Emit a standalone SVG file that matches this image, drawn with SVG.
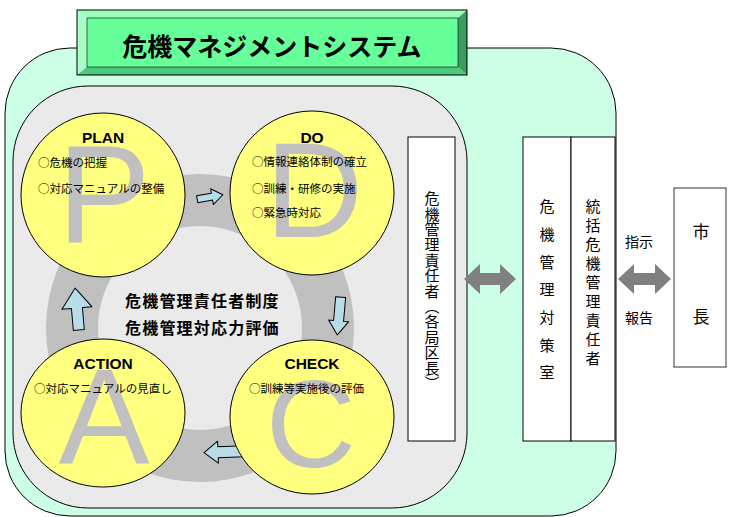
<svg xmlns="http://www.w3.org/2000/svg" width="731" height="517" viewBox="0 0 731 517">
<style>
.jp{font-family:"Noto Sans CJK JP","Noto Sans CJK SC",sans-serif;fill:#000}
.lbl{font-family:"Liberation Sans",Arial,sans-serif;font-weight:bold;font-size:15.5px;text-anchor:middle;fill:#000}
.item{font-size:11.5px}
.big{font-family:"Liberation Sans",Arial,sans-serif;fill:#C0C0C0;text-anchor:middle}
.circ{fill:#FFFF80;stroke:#000;stroke-width:1}
.box{fill:#FFFFFF;stroke:#000;stroke-width:1}
.rarrow{fill:#B7DEE8;stroke:#000;stroke-width:1;stroke-linejoin:round}
.darrow{fill:#808080}
.vt{writing-mode:vertical-rl;font-size:15px}
</style>
<rect width="731" height="517" fill="#FFFFFF"/>
<g id="frame">
<rect x="5" y="48" width="611" height="468" rx="65" fill="#CCFFE5" stroke="#000" stroke-width="1"/>
<rect x="13" y="86" width="454" height="422" rx="75" fill="#EAEAEA" stroke="#000" stroke-width="1"/>
<circle cx="200" cy="328" r="128" fill="none" stroke="#C0C0C0" stroke-width="52"/>
</g>
<g id="title">
<polygon points="77,10 467,10 458,18 87,18" fill="#99FFBB"/>
<polygon points="77,10 87,18 87,67 77,75" fill="#A6FFC4"/>
<polygon points="467,10 467,75 458,67 458,18" fill="#3C9C5E"/>
<polygon points="77,75 467,75 458,67 87,67" fill="#4CC87C"/>
<rect x="87" y="18" width="371" height="49" fill="#66FF99" stroke="#000" stroke-width="0.6"/>
<rect x="77" y="10" width="390" height="65" fill="none" stroke="#000" stroke-width="1"/>
<text class="jp" x="272" y="56" font-size="25" font-weight="bold" text-anchor="middle">危機マネジメントシステム</text>
</g>
<g id="connectors">
<polygon class="rarrow" transform="translate(210,197) rotate(-10)" points="-13,-3.5 2,-3.5 2,-8 13,0 2,8 2,3.5 -13,3.5"/>
<polygon class="rarrow" transform="translate(339,316) rotate(95)" points="-19,-5 5,-5 5,-10 19,0 5,10 5,5 -19,5"/>
<polygon class="rarrow" transform="translate(224,452) rotate(178)" points="-20,-5.5 6,-5.5 6,-11 20,0 6,11 6,5.5 -20,5.5"/>
<polygon class="rarrow" transform="translate(77,309) rotate(-95)" points="-21,-5.5 1,-5.5 1,-15 21,0 1,15 1,5.5 -21,5.5"/>
<polygon class="darrow" points="464,279 480,264 480,273 500,273 500,264 516,279 500,294 500,285 480,285 480,294"/>
<polygon class="darrow" points="618,279 634,264 634,273 655,273 655,264 671,279 655,294 655,285 634,285 634,294"/>
<text class="jp" x="639" y="247" font-size="14" text-anchor="middle">指示</text>
<text class="jp" x="639" y="323" font-size="14" text-anchor="middle">報告</text>
</g>
<g id="plan">
<circle class="circ" cx="103" cy="195" r="82"/>
<text class="big" x="104" y="242" font-size="140">P</text>
<text class="lbl" x="103" y="143">PLAN</text>
<text class="jp item" x="38" y="167">○危機の把握</text>
<text class="jp item" x="38" y="193">○対応マニュアルの整備</text>
</g>
<g id="do">
<circle class="circ" cx="312" cy="193" r="82"/>
<text class="big" x="314" y="237" font-size="136">D</text>
<text class="lbl" x="312" y="143">DO</text>
<text class="jp item" x="252" y="166">○情報連絡体制の確立</text>
<text class="jp item" x="252" y="193">○訓練・研修の実施</text>
<text class="jp item" x="252" y="217">○緊急時対応</text>
</g>
<g id="action">
<ellipse class="circ" cx="103" cy="413" rx="82" ry="74"/>
<text class="big" x="104" y="463" font-size="136">A</text>
<text class="lbl" x="103" y="369">ACTION</text>
<text class="jp item" x="34" y="393">○対応マニュアルの見直し</text>
</g>
<g id="check">
<ellipse class="circ" cx="312" cy="417" rx="82" ry="77"/>
<text class="big" x="311" y="467" font-size="125">C</text>
<text class="lbl" x="312" y="369">CHECK</text>
<text class="jp item" x="249" y="393">○訓練等実施後の評価</text>
</g>
<g id="center">
<text class="jp" x="125" y="307" font-size="16" font-weight="bold" letter-spacing="1.2">危機管理責任者制度</text>
<text class="jp" x="125" y="334" font-size="16" font-weight="bold" letter-spacing="1.2">危機管理対応力評価</text>
</g>
<g id="kyoku">
<rect class="box" x="408" y="137" width="47" height="304"/>
<text class="jp vt" x="432" y="191" letter-spacing="0.4">危機管理責任者（各局区長）</text>
</g>
<g id="taisakushitsu">
<rect class="box" x="523" y="137" width="48" height="304"/>
<text class="jp vt" x="547" y="199" letter-spacing="12.7">危機管理対策室</text>
</g>
<g id="tokatsu">
<rect class="box" x="571" y="137" width="44" height="304"/>
<text class="jp vt" x="593" y="199" letter-spacing="4">統括危機管理責任者</text>
</g>
<g id="shicho">
<rect x="674" y="188" width="52" height="179" fill="#FFFFFF" stroke="#333" stroke-width="1"/>
<text class="jp vt" x="701" y="223" font-size="17" style="font-size:17px" letter-spacing="68">市長</text>
</g>
</svg>
